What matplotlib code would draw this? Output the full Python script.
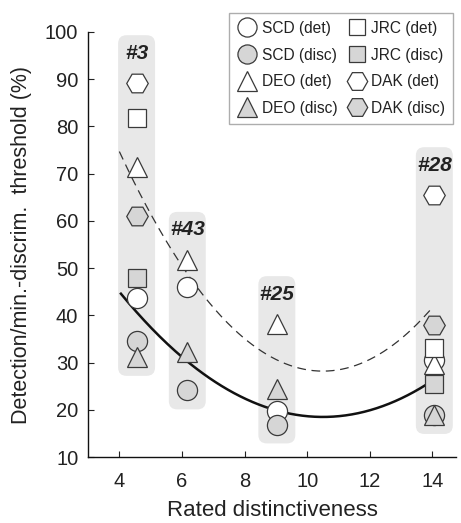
import numpy as np
import matplotlib.pyplot as plt
from matplotlib.patches import FancyBboxPatch

plt.rcParams['font.family'] = ['Liberation Sans', 'DejaVu Sans']

# stimulus groups and their rated distinctiveness
stimuli = ['#3', '#43', '#25', '#28']
distinct = [4.55, 6.17, 9.03, 14.06]

# thresholds (%), nan where a panel did not test the stimulus
scd_det = [43.7, 45.9, 19.7, 30.6]
scd_disc = [34.6, 24.1, 16.9, 19.0]
deo_det = [71.4, 51.7, 38.1, 29.7]
deo_disc = [31.2, 32.3, 24.5, 18.9]
jrc_det = [81.7, np.nan, np.nan, 33.0]
jrc_disc = [48.0, np.nan, np.nan, 25.5]
dak_det = [89.1, np.nan, np.nan, 65.4]
dak_disc = [61.0, np.nan, np.nan, 37.9]

# quadratic trend lines, vertex form: a, x0, y0
det_fit = [1.10, 10.5, 28.2]
disc_fit = [0.627, 10.5, 18.5]

fill_disc = '#d6d6d6'
edge = '#3a3a3a'

fig = plt.figure(figsize=(4.61, 5.23), dpi=100)
ax = fig.add_axes([0.191, 0.126, 0.798, 0.813])

# grey rounded boxes behind each stimulus group
all_vals = np.array([scd_det, scd_disc, deo_det, deo_disc, jrc_det, jrc_disc, dak_det, dak_disc])
for i, x in enumerate(distinct):
    col = all_vals[:, i]
    top = np.nanmax(col) + 10.2
    bot = np.nanmin(col) - 4.0
    box = FancyBboxPatch((x - 0.59, bot), 1.18, top - bot,
                         boxstyle='round,pad=0,rounding_size=0.27',
                         mutation_aspect=6.6, fc='#e8e8e8', ec='none', zorder=0)
    ax.add_patch(box)
    ax.text(x, np.nanmax(col) + 6.4, stimuli[i], ha='center', va='center',
            fontsize=15, fontweight='bold', fontstyle='italic', color='#222222', zorder=5)

# trend curves
xs = np.linspace(4.0, 13.95, 200)
a, x0, y0 = det_fit
ax.plot(xs, a * (xs - x0) ** 2 + y0, color='#333333', lw=0.9, ls=(0, (7, 4.5)), zorder=2)
xs = np.linspace(4.05, 13.9, 200)
a, x0, y0 = disc_fit
ax.plot(xs, a * (xs - x0) ** 2 + y0, color='#111111', lw=1.8, zorder=2)

series = [
    (scd_det, 'o', 'white', 14.5, 'SCD (det)'),
    (scd_disc, 'o', fill_disc, 14.5, 'SCD (disc)'),
    (deo_det, '^', 'white', 14.5, 'DEO (det)'),
    (deo_disc, '^', fill_disc, 14.5, 'DEO (disc)'),
    (jrc_det, 's', 'white', 12.5, 'JRC (det)'),
    (jrc_disc, 's', fill_disc, 12.5, 'JRC (disc)'),
    (dak_det, 'H', 'white', 15.5, 'DAK (det)'),
    (dak_disc, 'H', fill_disc, 15.5, 'DAK (disc)'),
]
handles = []
for vals, m, fc, ms, lab in series:
    h, = ax.plot(distinct, vals, ls='none', marker=m, ms=ms, mfc=fc, mec=edge,
                 mew=0.9, label=lab, zorder=3)
    handles.append(h)

ax.set_xlim(3.0, 14.75)
ax.set_ylim(10, 100)
ax.set_xticks([4, 6, 8, 10, 12, 14])
ax.set_yticks(range(10, 101, 10))
ax.tick_params(direction='in', length=4, width=0.8, labelsize=14.5, colors='#222222')
ax.tick_params(axis='x', pad=11)
ax.tick_params(axis='y', pad=7)
for s in ['top', 'right']:
    ax.spines[s].set_visible(False)
for s in ['left', 'bottom']:
    ax.spines[s].set_linewidth(1.0)
    ax.spines[s].set_color('#111111')

ax.set_xlabel('Rated distinctiveness', fontsize=16, color='#222222', labelpad=6)
ax.set_ylabel('Detection/min.-discrim.  threshold (%)', fontsize=15.5, color='#222222', labelpad=9)

leg = fig.legend(handles=handles, ncol=2, loc='upper right', bbox_to_anchor=(0.983, 0.975),
                 borderaxespad=0, fontsize=11.2, frameon=True, fancybox=False,
                 edgecolor='#999999', handlelength=1.3, handletextpad=0.3, columnspacing=0.6,
                 labelspacing=0.75, borderpad=0.5, markerscale=0.95)
leg.get_frame().set_linewidth(1.0)
for t in leg.get_texts():
    t.set_color('#222222')

fig.savefig('out.png', dpi=100)
